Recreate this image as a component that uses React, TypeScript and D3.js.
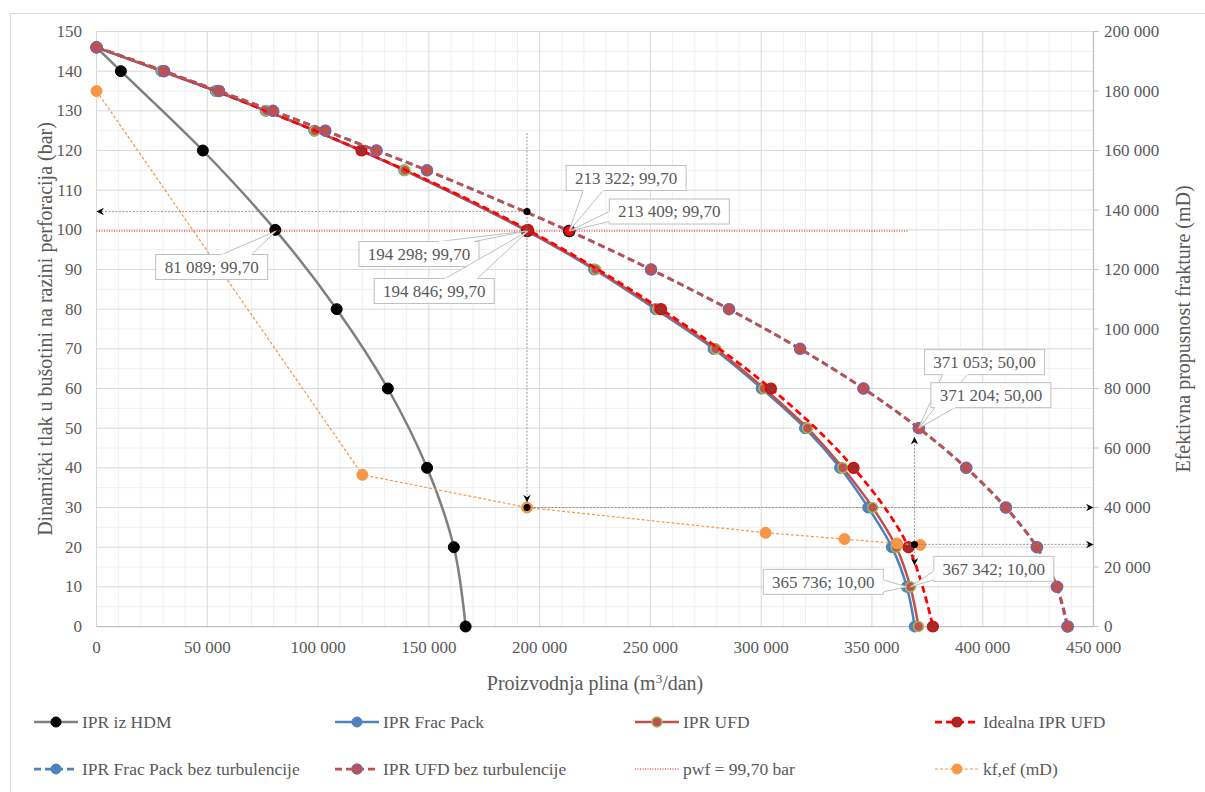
import React from "react";
import * as d3 from "d3";

// ---------- DATA ----------
const hdmQ = [0, 11000, 48000, 80700, 108400, 131500, 149200, 161300, 166600];
const hdmP = [146, 140, 120, 100, 80, 60, 40, 20, 0];

const turbP = [146, 140, 135, 130, 125, 115, 99.7, 90, 80, 70, 60, 50, 40, 30, 20, 10, 0];
const fracPackQ = [0, 29300, 53800, 76400, 98300, 138900, 194298, 224600, 252300, 278500, 300200, 319800, 335600, 348300, 359000, 365736, 369300];
const ufdQ = [0, 29600, 54100, 76700, 98600, 139200, 194846, 225300, 253300, 279500, 301300, 320900, 336800, 350300, 361000, 367342, 371000];

const idealP = [146, 140, 120, 100, 80, 60, 40, 20, 0];
const idealQ = [0, 30500, 119600, 194700, 254800, 304400, 341700, 366500, 377500];

const noTurbP = [146, 140, 135, 130, 125, 120, 115, 99.7, 90, 80, 70, 60, 50, 40, 30, 20, 10, 0];
const fracPackNoTurbQ = [0, 30400, 55200, 79600, 103200, 126300, 149100, 213322, 250200, 285400, 317500, 346100, 371053, 392400, 410300, 424300, 433300, 438100];
const ufdNoTurbQ = [0, 30500, 55300, 79700, 103300, 126400, 149200, 213409, 250300, 285500, 317600, 346200, 371204, 392600, 410500, 424500, 433600, 438400];

const pwfQ = [0, 366000];
const pwfP = [99.7, 99.7];

const kfQ = [0, 120000, 194300, 302000, 337600, 361300, 371800];
const kfVal = [180000, 51000, 40000, 31500, 29400, 27900, 27400];

const xTicks = [0, 50000, 100000, 150000, 200000, 250000, 300000, 350000, 400000, 450000];
const yTicks = [0, 10, 20, 30, 40, 50, 60, 70, 80, 90, 100, 110, 120, 130, 140, 150];
const yRTicks = [0, 20000, 40000, 60000, 80000, 100000, 120000, 140000, 160000, 180000, 200000];

// Callout values (labelled points)
const calloutQ = [81089, 194298, 194846, 213322, 213409, 371053, 371204, 365736, 367342];
const calloutP = [99.7, 99.7, 99.7, 99.7, 99.7, 50, 50, 10, 10];

// Guide (arrow) lines: values; axis: "L" = left bar axis, "R" = right mD axis
const guideQ1 = [194300, 194300, 194300, 369200, 369200, 369200];
const guideV1 = [124.4, 104.6, 40000, 27600, 27600, 27600];
const guideQ2 = [194300, 0, 450000, 369200, 369200, 450000];
const guideV2 = [31.3, 104.6, 40000, 47.8, 15.4, 27600];
const guideAxis1 = ["L", "L", "R", "R", "R", "R"];
const guideAxis2 = ["L", "L", "R", "L", "L", "R"];
const guideDotQ = [194300, 194300, 369200];
const guideDotV = [104.6, 40000, 27600];
const guideDotAxis = ["L", "R", "R"];

// ---------- LAYOUT ----------
const W = 1205, H = 792;
const M = { left: 96.5, right: 1093.5, top: 31.5, bottom: 626.5 };
const FONT = "Liberation Serif, DejaVu Serif, serif";
const TXT = "#595959";

// callout layout: box centre offset from anchor, wedge side and base offsets along edge
const calloutLayout = [
  { dx: -64.5, dy: 36, side: "top", b: [10, 40] },
  { dx: -108, dy: 23, side: "top", b: [20, 55] },
  { dx: -94, dy: 60, side: "top", b: [11, 43] },
  { dx: 57, dy: -53, side: "bottom", b: [-43, -23] },
  { dx: 100, dy: -19.5, side: "left", b: [0, 10] },
  { dx: 66, dy: -66, side: "bottom", b: [-42, -17] },
  { dx: 72, dy: -33, side: "bottom", b: [-56, -36] },
  { dx: -83.5, dy: -5, side: "right", b: [-2, 10] },
  { dx: 83.5, dy: -18, side: "left", b: [2, 11] },
];

type S = {
  name: string; q: number[]; p: number[]; axis: "L" | "R";
  color: string; width: number; dash?: string; smooth: boolean;
  mFill?: string; mStroke?: string; r?: number; mw?: number; hl?: boolean;
};

const series: S[] = [
  { name: "IPR iz HDM", q: hdmQ, p: hdmP, axis: "L", color: "#7F7F7F", width: 2.5, smooth: true, mFill: "#000", mStroke: "#000", r: 5.5, mw: 1 },
  { name: "IPR Frac Pack", q: fracPackQ, p: turbP, axis: "L", color: "#4F81BD", width: 2.5, smooth: true, mFill: "#4F81BD", mStroke: "#4F81BD", r: 5.5, mw: 1, hl: true },
  { name: "IPR UFD", q: ufdQ, p: turbP, axis: "L", color: "#C0504D", width: 2.5, smooth: true, mFill: "#C0504D", mStroke: "#9BBB59", r: 5, mw: 1.5, hl: true },
  { name: "Idealna IPR UFD", q: idealQ, p: idealP, axis: "L", color: "#FF0000", width: 2.75, dash: "7,4", smooth: true, mFill: "#A52A2A", mStroke: "#E00000", r: 5.5, mw: 1.2 },
  { name: "IPR Frac Pack bez turbulencije", q: fracPackNoTurbQ, p: noTurbP, axis: "L", color: "#4F81BD", width: 2.75, dash: "7,4", smooth: true, mFill: "#4F81BD", mStroke: "#4F81BD", r: 5.5, mw: 1, hl: true },
  { name: "IPR UFD bez turbulencije", q: ufdNoTurbQ, p: noTurbP, axis: "L", color: "#C0504D", width: 2.75, dash: "7,4", smooth: true, mFill: "#C0504D", mStroke: "#8064A2", r: 5.5, mw: 1.5, hl: true },
  { name: "pwf = 99,70 bar", q: pwfQ, p: pwfP, axis: "L", color: "#FF0000", width: 1, dash: "1,1.5", smooth: false },
  { name: "kf,ef (mD)", q: kfQ, p: kfVal, axis: "R", color: "#F79646", width: 1.2, dash: "3,2", smooth: false, mFill: "#F79646", mStroke: "#F79646", r: 5.5, mw: 1 },
];

const fmt = (v: number) => d3.format(",")(v).replace(/,/g, " ");

function measure(text: string, font: string) {
  const c = document.createElement("canvas").getContext("2d");
  if (!c) return text.length * 7;
  c.font = font;
  return c.measureText(text).width;
}

const T = (props: any) => <text {...props} style={{ fontFamily: FONT }} fill={TXT} />;

export default function App() {
  const x = d3.scaleLinear().domain([0, 450000]).range([M.left, M.right]);
  const y = d3.scaleLinear().domain([0, 150]).range([M.bottom, M.top]);
  const yR = d3.scaleLinear().domain([0, 200000]).range([M.bottom, M.top]);
  const ys = (a: string) => (a === "R" ? yR : y);

  const minorX = d3.range(0, 450001, 10000).filter((v) => v % 50000 !== 0);
  const minorY = d3.range(5, 150, 10);

  const legendCols = [34, 335, 635, 935];
  const legendRows = [722, 769];
  const CF = 17;

  return (
    <svg width={W} height={H} style={{ position: "absolute", left: 0, top: 0, background: "#fff", fontFamily: FONT }}>
      <defs>
        <marker id="arr" viewBox="-10 -6 12 12" refX="0" refY="0" markerWidth="10" markerHeight="10" markerUnits="userSpaceOnUse" orient="auto">
          <path d="M0,0 L-9,-4.5 L-6,0 L-9,4.5 Z" fill="#000" />
        </marker>
        <clipPath id="plotclip">
          <rect x={M.left - 8} y={M.top - 8} width={M.right - M.left + 16} height={M.bottom - M.top + 16} />
        </clipPath>
      </defs>
      <rect x={0} y={0} width={W} height={H} fill="#fff" />
      <rect x={10.5} y={13.5} width={1300} height={900} fill="none" stroke="#D9D9D9" strokeWidth={1} />

      {/* grid */}
      {minorX.map((v) => (
        <line key={"mx" + v} x1={x(v)} x2={x(v)} y1={M.top} y2={M.bottom} stroke="#F0F0F0" strokeWidth={1} />
      ))}
      {minorY.map((v) => (
        <line key={"my" + v} x1={M.left} x2={M.right} y1={y(v)} y2={y(v)} stroke="#F0F0F0" strokeWidth={1} />
      ))}
      {xTicks.map((v) => (
        <line key={"gx" + v} x1={x(v)} x2={x(v)} y1={M.top} y2={M.bottom} stroke="#D9D9D9" strokeWidth={1} />
      ))}
      {yTicks.map((v) => (
        <line key={"gy" + v} x1={M.left} x2={M.right} y1={y(v)} y2={y(v)} stroke="#D9D9D9" strokeWidth={1} />
      ))}
      {/* axes */}
      <line x1={M.left} x2={M.right} y1={M.bottom} y2={M.bottom} stroke="#BFBFBF" strokeWidth={1.25} />
      <line x1={M.right} x2={M.right} y1={M.top} y2={M.bottom} stroke="#BFBFBF" strokeWidth={1.25} />
      {yRTicks.map((v) => (
        <line key={"rt" + v} x1={M.right} x2={M.right + 5} y1={yR(v)} y2={yR(v)} stroke="#BFBFBF" strokeWidth={1} />
      ))}

      {/* tick labels */}
      {xTicks.map((v) => (
        <T key={"xl" + v} x={x(v)} y={653} textAnchor="middle" fontSize={17}>{fmt(v)}</T>
      ))}
      {yTicks.map((v) => (
        <T key={"yl" + v} x={82} y={y(v)} dy="0.33em" textAnchor="end" fontSize={17}>{v}</T>
      ))}
      {yRTicks.map((v) => (
        <T key={"yr" + v} x={1104} y={yR(v)} dy="0.33em" textAnchor="start" fontSize={17}>{fmt(v)}</T>
      ))}

      {/* axis titles */}
      <T x={(M.left + M.right) / 2} y={690} textAnchor="middle" fontSize={20}>
        Proizvodnja plina (m<tspan dy="-7" fontSize={13}>3</tspan><tspan dy="7">/dan)</tspan>
      </T>
      <T transform={`translate(52,${(M.top + M.bottom) / 2}) rotate(-90)`} textAnchor="middle" fontSize={20}>
        Dinamički tlak u bušotini na razini perforacija (bar)
      </T>
      <T transform={`translate(1190,${(M.top + M.bottom) / 2}) rotate(-90)`} textAnchor="middle" fontSize={20}>
        Efektivna propusnost frakture (mD)
      </T>

      {/* series */}
      <g clipPath="url(#plotclip)">
        {series.map((s, si) => {
          const sc = ys(s.axis);
          const pts: [number, number][] = s.q.map((q, i) => [x(q), sc(s.p[i])]);
          const line = d3.line<[number, number]>().curve(s.smooth ? d3.curveCatmullRom.alpha(0.5) : d3.curveLinear);
          return (
            <g key={"s" + si}>
              <path d={line(pts) || ""} fill="none" stroke={s.color} strokeWidth={s.width} strokeDasharray={s.dash} strokeLinejoin="round" />
              {s.mFill &&
                pts.map((pt, i) => {
                  const hi = s.hl && s.p[i] === 99.7;
                  return (
                    <circle key={i} cx={pt[0]} cy={pt[1]} r={s.r}
                      fill={hi ? "#FF0000" : s.mFill}
                      stroke={hi ? "#222" : s.mStroke}
                      strokeWidth={hi ? 1.5 : s.mw} />
                  );
                })}
            </g>
          );
        })}
      </g>

      {/* guides */}
      {guideQ1.map((q1, i) => (
        <line key={"g" + i} x1={x(q1)} y1={ys(guideAxis1[i])(guideV1[i])} x2={x(guideQ2[i])} y2={ys(guideAxis2[i])(guideV2[i])}
          stroke="#808080" strokeWidth={0.8} strokeDasharray="2,1.5" markerEnd="url(#arr)" />
      ))}
      {guideDotQ.map((q, i) => (
        <circle key={"gd" + i} cx={x(q)} cy={ys(guideDotAxis[i])(guideDotV[i])} r={3.5} fill="#000" />
      ))}

      {/* callouts */}
      {calloutQ.map((q, i) => {
        const ax = x(q), ay = y(calloutP[i]);
        const lay = calloutLayout[i];
        const label = `${fmt(q)}; ${calloutP[i].toFixed(2).replace(".", ",")}`;
        const tw = measure(label, `${CF}px ${FONT}`);
        const bw = Math.round(tw + 18), bh = 25;
        const cx = ax + lay.dx, cy = ay + lay.dy;
        const L = cx - bw / 2, Tp = cy - bh / 2;
        let b1: [number, number], b2: [number, number];
        if (lay.side === "top") { b1 = [cx + lay.b[0], Tp]; b2 = [cx + lay.b[1], Tp]; }
        else if (lay.side === "bottom") { b1 = [cx + lay.b[0], Tp + bh]; b2 = [cx + lay.b[1], Tp + bh]; }
        else if (lay.side === "left") { b1 = [L, cy + lay.b[0]]; b2 = [L, cy + lay.b[1]]; }
        else { b1 = [L + bw, cy + lay.b[0]]; b2 = [L + bw, cy + lay.b[1]]; }
        return (
          <g key={"c" + i}>
            <path d={`M${b1[0]},${b1[1]} L${ax},${ay} L${b2[0]},${b2[1]}`} fill="#fff" stroke="#BFBFBF" strokeWidth={1} />
            <rect x={L} y={Tp} width={bw} height={bh} fill="#fff" stroke="#BFBFBF" strokeWidth={1} />
            <line x1={b1[0]} y1={b1[1]} x2={b2[0]} y2={b2[1]} stroke="#fff" strokeWidth={1.5} />
            <T x={cx} y={cy} dy="0.35em" textAnchor="middle" fontSize={CF}>{label}</T>
          </g>
        );
      })}

      {/* legend */}
      {series.map((s, i) => {
        const lx = legendCols[i % 4];
        const ly = legendRows[Math.floor(i / 4)];
        return (
          <g key={"lg" + i}>
            <line x1={lx} x2={lx + 44} y1={ly} y2={ly} stroke={s.color} strokeWidth={s.width} strokeDasharray={s.dash} />
            {s.mFill && <circle cx={lx + 22} cy={ly} r={5} fill={s.mFill} stroke={s.mStroke} strokeWidth={s.mw} />}
            <T x={lx + 48} y={ly} dy="0.35em" fontSize={17.5}>{s.name}</T>
          </g>
        );
      })}
    </svg>
  );
}
